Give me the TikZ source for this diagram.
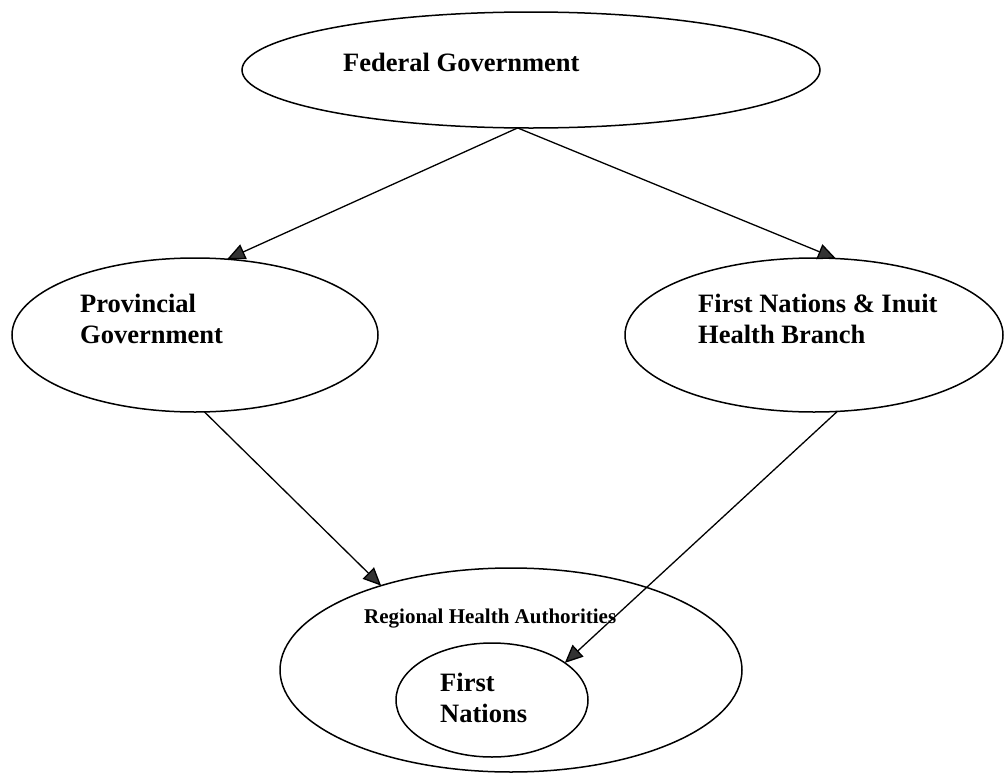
\documentclass[tikz,border=0pt]{standalone}
\usepackage{fontspec}
\setmainfont{Liberation Serif}
\usetikzlibrary{shapes.geometric,arrows.meta}
\begin{document}
\begin{tikzpicture}[x=1pt,y=1pt,
  oval/.style={draw=black,line width=1.5pt,ellipse,inner sep=0pt,outer sep=0pt},
  big/.style={font=\fontsize{26.5}{31}\selectfont\bfseries,align=left,anchor=base west,inner sep=0pt},
  small/.style={font=\fontsize{21}{25}\selectfont\bfseries,anchor=base west,inner sep=0pt},
  link/.style={line width=1.3pt,-{Triangle[length=18pt,width=16pt,fill=black!80]}}]
\useasboundingbox (0,0) rectangle (1005,-774);
\node[oval,minimum width=578pt,minimum height=116pt] (fed) at (531,-70) {};
\node[oval,minimum width=366pt,minimum height=154pt] (prov) at (195,-335) {};
\node[oval,minimum width=378pt,minimum height=154pt] (fnihb) at (814,-335) {};
\node[oval,minimum width=462pt,minimum height=204pt] (rha) at (511,-670) {};
\node[oval,minimum width=192pt,minimum height=114pt] (fn) at (492,-700) {};
\node[big] (tfed) at (343,-71) {Federal Government};
\node[big] (tprov) at (80,-343) {Provincial\\Government};
\node[big] (tfnihb) at (698,-343) {First Nations \& Inuit\\Health Branch};
\node[small] (trha) at (364,-623) {Regional Health Authorities};
\node[big] (tfn) at (440,-722) {First\\Nations};
\draw[link] (fed.257) -- (prov.67);
\draw[link] (fed.257) -- (fnihb.74);
\draw[link] (prov.277) -- (rha.147);
\draw[link] (fnihb.287) -- (fn.27);
\end{tikzpicture}
\end{document}
